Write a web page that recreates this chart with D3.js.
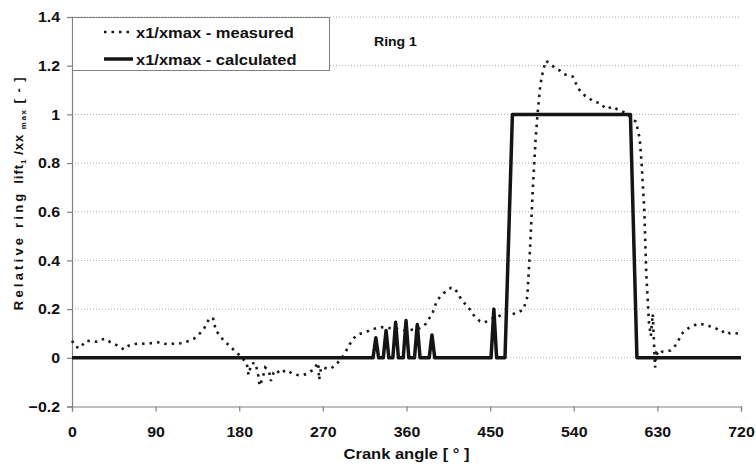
<!DOCTYPE html>
<html>
<head>
<meta charset="utf-8">
<script src="https://cdn.jsdelivr.net/npm/d3@7"></script>
<style>
  html, body { margin: 0; padding: 0; background: #fff; }
  svg { display: block; }
  text { font-family: "Liberation Sans", Arial, sans-serif; font-weight: bold; fill: #111; }
</style>
</head>
<body>
<svg id="chart" width="756" height="468"></svg>
<script>
// Crank angle ticks and relative lift ticks
const xTicks = [0, 90, 180, 270, 360, 450, 540, 630, 720];
const yTicks = [-0.2, 0, 0.2, 0.4, 0.6, 0.8, 1, 1.2, 1.4];

// Measured relative ring lift x1/xmax
const measAngle = [0, 4, 9, 14, 20, 26, 31, 36, 41, 46, 51, 56, 61, 65, 70, 75, 80, 85, 90, 95,
  100, 104, 108, 112, 117, 121, 126, 131, 136, 141, 145, 148, 152, 155, 160, 163, 168, 172, 176, 180,
  184, 188, 190, 193, 197, 200, 202, 205, 208, 212, 214, 217, 220, 224, 228, 231, 235, 238, 242, 245,
  249, 253, 257, 260, 263, 265, 266, 268, 271, 275, 278, 282, 285, 289, 293, 298, 302, 306, 311, 315,
  319, 322, 326, 330, 333, 337, 340, 345, 350, 354, 359, 364, 369, 373, 377, 381, 385, 388, 392, 396,
  400, 404, 408, 412, 417, 421, 424, 428, 431, 435, 439, 444, 449, 454, 459, 464, 469, 474, 480, 486,
  490, 493, 496, 499, 501, 504, 507, 510, 514, 520, 525, 529, 534, 539, 545, 552, 557, 561, 568, 575,
  582, 587, 592, 598, 603, 607, 611, 613, 616, 618, 621, 623, 625, 626.5, 627.5, 629, 632, 635, 640, 644,
  648, 651, 656, 661, 665, 670, 674, 680, 687, 694, 699, 704, 708, 712, 717];
const measValue = [0.07, 0.045, 0.04, 0.068, 0.07, 0.066, 0.075, 0.078, 0.065, 0.057, 0.045, 0.034, 0.05, 0.055, 0.058, 0.057, 0.06, 0.06, 0.062, 0.064,
  0.058, 0.055, 0.058, 0.057, 0.06, 0.064, 0.07, 0.078, 0.095, 0.112, 0.14, 0.165, 0.16, 0.11, 0.09, 0.07, 0.055, 0.04, 0.025, 0.012,
  -0.005, -0.02, -0.07, -0.025, -0.02, -0.06, -0.115, -0.085, -0.04, -0.055, -0.095, -0.06, -0.05, -0.066, -0.055, -0.05, -0.06, -0.066, -0.07, -0.072,
  -0.07, -0.066, -0.055, -0.05, -0.03, -0.02, -0.09, -0.04, -0.04, -0.045, -0.045, -0.035, -0.025, -0.005, 0.014, 0.05, 0.075, 0.092, 0.1, 0.105,
  0.11, 0.116, 0.12, 0.125, 0.126, 0.124, 0.123, 0.12, 0.119, 0.115, 0.112, 0.114, 0.118, 0.119, 0.128, 0.14, 0.165, 0.183, 0.228, 0.25,
  0.265, 0.278, 0.287, 0.285, 0.252, 0.23, 0.218, 0.2, 0.18, 0.165, 0.15, 0.145, 0.155, 0.165, 0.17, 0.18, 0.185, 0.18, 0.185, 0.2,
  0.25, 0.45, 0.7, 0.9, 1.0, 1.12, 1.18, 1.22, 1.21, 1.19, 1.18, 1.166, 1.16, 1.155, 1.105, 1.077, 1.065, 1.053, 1.047, 1.022,
  1.032, 1.02, 1.013, 1.0, 0.98, 0.97, 0.9, 0.8, 0.6, 0.35, 0.14, 0.09, 0.18, 0.05, -0.04, 0.02, 0.01, 0.025, 0.028, 0.03,
  0.045, 0.057, 0.098, 0.115, 0.126, 0.134, 0.14, 0.137, 0.129, 0.119, 0.105, 0.112, 0.1, 0.101, 0.1];

// Calculated relative ring lift x1/xmax
const calcAngle = [0, 324, 327, 330, 335, 338, 341, 345.3, 348.3, 351.3, 356.5, 359.5, 362.5, 368.6, 371.6, 374.6,
  384.4, 387.4, 390.4, 451, 454, 457, 466, 474, 601, 608, 720];
const calcValue = [0, 0, 0.082, 0, 0, 0.112, 0, 0, 0.146, 0, 0, 0.153, 0, 0, 0.137, 0,
  0, 0.094, 0, 0, 0.2, 0, 0, 1, 1, 0, 0];

const seriesNames = ["x1/xmax - measured", "x1/xmax - calculated"];

const svg = d3.select("#chart");
const x = d3.scaleLinear().domain([0, 720]).range([72, 741]);
const y = d3.scaleLinear().domain([-0.2, 1.4]).range([406.5, 17]);

// widen a text's glyphs horizontally by factor k
function widen(sel, k) {
  sel.each(function () {
    const len = this.getComputedTextLength();
    d3.select(this).attr("textLength", len * k).attr("lengthAdjust", "spacingAndGlyphs");
  });
}

// dotted horizontal gridlines
svg.append("g")
  .selectAll("line")
  .data(yTicks.filter(d => d > -0.2))
  .join("line")
  .attr("x1", x(0)).attr("x2", x(720))
  .attr("y1", d => y(d)).attr("y2", d => y(d))
  .attr("stroke", "#aaa").attr("stroke-width", 1)
  .attr("stroke-dasharray", "1,2");

// axes
const xAxis = svg.append("g")
  .attr("transform", `translate(0,${y(-0.2)})`)
  .call(d3.axisBottom(x).tickValues(xTicks).tickSize(5).tickPadding(15).tickFormat(d3.format("d")));
const yAxis = svg.append("g")
  .attr("transform", `translate(${x(0)},0)`)
  .call(d3.axisLeft(y).tickValues(yTicks).tickSize(5).tickPadding(7).tickFormat(d => d3.format("")(+d.toFixed(1))));
[xAxis, yAxis].forEach(g => {
  g.select(".domain").attr("stroke", "#808080").attr("stroke-width", 1.2);
  g.selectAll(".tick line").attr("stroke", "#808080").attr("stroke-width", 1.2);
  g.selectAll(".tick text").attr("font-size", 15).attr("font-weight", "bold")
    .attr("font-family", "Liberation Sans, Arial, sans-serif").attr("fill", "#111")
    .call(widen, 1.06);
});

const line = d3.line().x(d => x(d[0])).y(d => y(d[1]));

// calculated lift
svg.append("path")
  .datum(calcAngle.map((a, i) => [a, calcValue[i]]))
  .attr("d", line)
  .attr("fill", "none").attr("stroke", "#151515").attr("stroke-width", 3.5)
  .attr("stroke-linejoin", "round");

// measured lift
svg.append("path")
  .datum(measAngle.map((a, i) => [a, measValue[i]]))
  .attr("d", line)
  .attr("fill", "none").attr("stroke", "#1a1a1a").attr("stroke-width", 2.6)
  .attr("stroke-dasharray", "2.5,5");

// legend
const lg = svg.append("g");
lg.append("rect")
  .attr("x", 72.5).attr("y", 17.5).attr("width", 257).attr("height", 53)
  .attr("fill", "#fff").attr("stroke", "#808080").attr("stroke-width", 1);
const legendRows = [
  { y: 32, dash: "2.5,5", w: 2.6 },
  { y: 59, dash: null, w: 3.5 }
];
legendRows.forEach((r, i) => {
  lg.append("line")
    .attr("x1", 104).attr("x2", 133).attr("y1", r.y).attr("y2", r.y)
    .attr("stroke", "#151515").attr("stroke-width", r.w)
    .attr("stroke-dasharray", r.dash);
  lg.append("text")
    .attr("x", 136).attr("y", r.y + 5.5)
    .attr("font-size", 15)
    .text(seriesNames[i])
    .call(widen, 1.1);
});

// annotation
svg.append("text")
  .attr("x", 374).attr("y", 46)
  .attr("font-size", 13)
  .text("Ring 1")
  .call(widen, 1.08);

// axis titles
svg.append("text")
  .attr("x", x(360)).attr("y", 459)
  .attr("text-anchor", "middle")
  .attr("font-size", 15)
  .text("Crank angle [ ° ]")
  .call(widen, 1.1);

const yt = svg.append("text")
  .attr("transform", "translate(23,193) rotate(-90)")
  .attr("text-anchor", "middle")
  .attr("font-size", 13);
yt.append("tspan").attr("letter-spacing", 3.2).text("Relative ring ");
yt.append("tspan").attr("letter-spacing", 1).text("lift");
yt.append("tspan").attr("font-size", 8).attr("dy", 3).text("1");
yt.append("tspan").attr("dy", -3).attr("letter-spacing", 1).text(" /xx ");
yt.append("tspan").attr("font-size", 8).attr("dy", 3).attr("letter-spacing", 1.5).text("max");
yt.append("tspan").attr("dy", -3).attr("letter-spacing", 1.5).text(" [ - ]");
</script>
</body>
</html>
